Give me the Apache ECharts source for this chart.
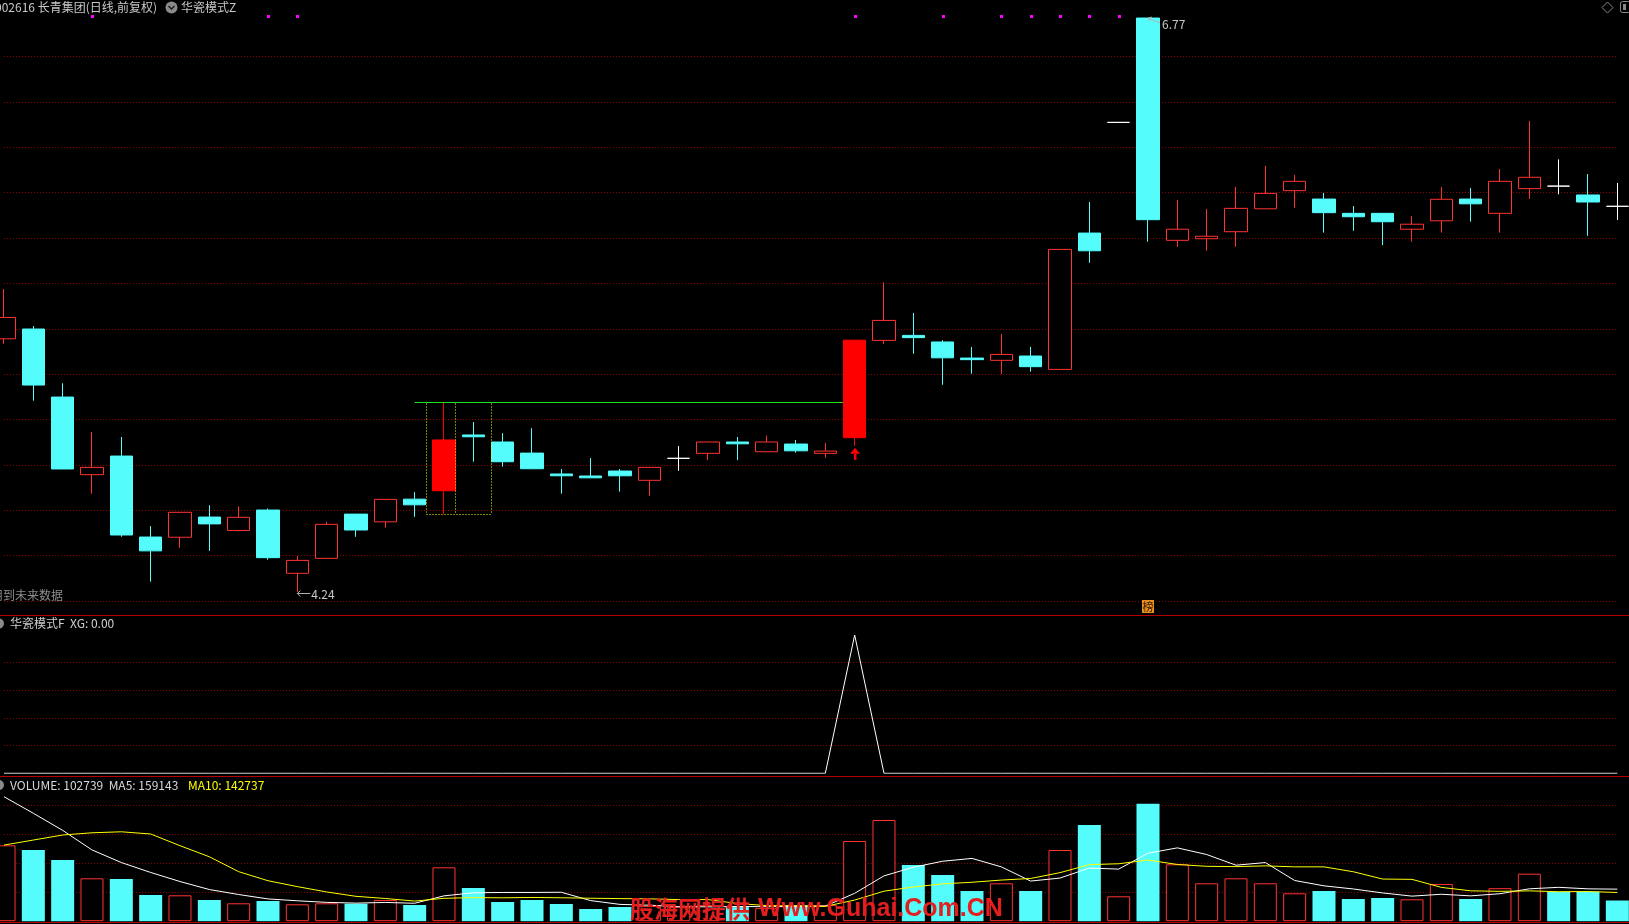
<!DOCTYPE html>
<html><head><meta charset="utf-8">
<script src="https://cdn.jsdelivr.net/npm/echarts@6/dist/echarts.min.js"></script>
<style>html,body{margin:0;padding:0;background:#000;overflow:hidden}#c{width:1629px;height:924px}</style>
</head><body><div id="c"></div>
<script>
// ---------- data ----------
const open  = [5.356,5.399,5.099,4.757,4.839,4.482,4.481,4.570,4.511,4.601,4.322,4.388,4.583,4.549,4.649,4.686,4.932,4.901,4.852,4.760,4.751,4.773,4.732,4.829,4.851,4.901,4.858,4.892,4.851,4.920,5.349,5.371,5.342,5.271,5.261,5.280,5.221,5.822,6.310,6.770,5.790,5.797,5.828,5.929,6.009,5.972,5.909,5.909,5.839,5.876,5.972,5.909,6.018,6.029,5.990,5.940];
const high  = [5.575,5.412,5.160,4.945,4.923,4.530,4.591,4.622,4.617,4.608,4.399,4.549,4.583,4.648,4.680,5.078,4.989,4.940,4.962,4.782,4.830,4.782,4.789,4.883,4.901,4.923,4.929,4.910,4.896,5.350,5.605,5.470,5.350,5.320,5.377,5.320,5.750,5.959,6.310,6.770,5.968,5.928,6.025,6.118,6.078,5.999,5.941,5.909,5.897,6.025,6.021,6.104,6.316,6.147,6.082,6.043];
const low   = [5.334,5.083,4.782,4.673,4.483,4.285,4.435,4.421,4.511,4.382,4.240,4.388,4.483,4.523,4.571,4.583,4.814,4.792,4.783,4.673,4.743,4.682,4.664,4.774,4.821,4.821,4.858,4.854,4.831,4.884,5.334,5.290,5.153,5.202,5.201,5.211,5.221,5.691,6.310,5.784,5.762,5.744,5.762,5.929,5.934,5.824,5.832,5.769,5.784,5.824,5.872,5.824,5.973,5.993,5.810,5.880];
const close = [5.450,5.152,4.782,4.789,4.491,4.421,4.591,4.540,4.569,4.391,4.379,4.538,4.513,4.648,4.624,4.910,4.924,4.814,4.783,4.752,4.743,4.752,4.789,4.829,4.901,4.893,4.901,4.862,4.861,5.350,5.437,5.361,5.272,5.264,5.287,5.233,5.750,5.744,6.310,5.881,5.839,5.808,5.931,5.997,6.050,5.912,5.894,5.872,5.861,5.971,5.951,6.050,6.068,6.029,5.959,5.940];
const volume = [376800,353500,303900,213000,209500,130100,128600,105300,88900,100300,
                83900,88900,86900,105300,80400,267600,164800,95300,105300,85400,
                60600,70500,75000,70000,80000,70000,65000,80000,80000,398200,
                502500,279000,229400,150000,188200,150000,353500,477600,123600,583400,
                282500,188200,213000,188200,138500,150000,110200,115200,108700,185000,
                110200,164000,236000,146000,147000,102739];
const ma5 = [618000,536000,451000,354000,291300,242000,197000,157300,132500,110600,
             101400,93500,89800,93100,89100,125800,141000,142700,142700,143700,
             102300,83400,79400,72300,71200,73100,72000,73000,75000,138600,
             225100,267900,297800,311800,269800,199300,214200,263900,258600,337600,
             364100,331100,278100,291100,202100,175600,160000,140400,124500,133800,
             125900,136600,160800,168200,160600,159143];
const ma10 = [378000,403000,428000,439000,444000,433000,375000,320000,246000,201000,
              171700,145200,123500,112800,99900,113600,117200,116200,117900,116400,
              114100,112200,111000,107500,107500,87700,77700,76200,73700,104900,
              149100,170000,185400,193400,204200,212200,241100,280800,285200,303700,
              281700,272600,271000,274800,269900,269900,245500,209300,207800,167900,
              150700,148300,150600,146400,147200,142737];
const xg = [0,0,0,0,0,0,0,0,0,0, 0,0,0,0,0,0,0,0,0,0, 0,0,0,0,0,0,0,0,0,1,
            0,0,0,0,0,0,0,0,0,0, 0,0,0,0,0,0,0,0,0,0, 0,0,0,0,0,0];
const highlightIdx = [15, 29];          // solid red candles
const boxIdx = 15;                      // yellow dotted box candle
const breakIdx = 29;                    // breakout candle (arrow)
const signalIdx = [3, 9, 10, 29, 32, 34, 35, 36, 37, 38]; // magenta dots on top
const rankIdx = 39;                     // 榜 marker
const categories = open.map((_, i) => String(i + 1));

// ---------- colours ----------
const RED = '#FF3232', CYAN = '#54FCFC', GRID = '#8C0000', SEP = '#B40000';
const BW = 23;

const candleData = open.map((o, i) => {
  const item = { value: [o, close[i], low[i], high[i]] };
  if (highlightIdx.includes(i)) {
    item.itemStyle = { color: '#FF0000', color0: '#FF0000', borderColor: '#FF0000', borderColor0: '#FF0000' };
  } else if (close[i] === o) {
    item.itemStyle = { color: '#FFFFFF', color0: '#FFFFFF', borderColor: '#FFFFFF', borderColor0: '#FFFFFF' };
  }
  return item;
});
const isUp = i => close[i] > open[i] || (close[i] === open[i] && (i === 0 || close[i] >= close[i - 1]));
const volData = volume.map((v, i) => ({
  value: v,
  itemStyle: isUp(i) ? { color: '#000', borderColor: RED, borderWidth: 1 } : { color: CYAN, borderColor: CYAN, borderWidth: 0 }
}));

const hp = v => Math.round(v) + 0.5;
const dotted = { stroke: '#FFFF00', lineWidth: 1, lineDash: [1, 2] };

function renderDecor(params, api) {
  const c = (i, p) => api.coord([i, p]);
  const ch = [];
  // green resistance line at high of box candle
  const gy = hp(c(boxIdx, high[boxIdx])[1]);
  const gx0 = c(boxIdx - 1, high[boxIdx])[0];
  const gx1 = c(breakIdx, high[boxIdx])[0] - BW / 2;
  ch.push({ type: 'line', shape: { x1: gx0, y1: gy, x2: gx1, y2: gy }, style: { stroke: '#1EE61E', lineWidth: 1 } });
  // yellow dotted box
  const yb = hp(c(boxIdx, low[boxIdx])[1]);
  const x1 = hp(c(boxIdx - 1, 0)[0] + BW / 2), x2 = hp(c(boxIdx, 0)[0] + BW / 2), x3 = hp(c(boxIdx + 2, 0)[0] - BW / 2);
  [x1, x2, x3].forEach(x => ch.push({ type: 'line', shape: { x1: x, y1: gy + 1, x2: x, y2: yb }, style: dotted }));
  ch.push({ type: 'line', shape: { x1: x1, y1: yb, x2: x3, y2: yb }, style: dotted });
  // red arrow under breakout candle
  const a = c(breakIdx, low[breakIdx]);
  const ax = Math.round(a[0]), ay = a[1] + 2;
  ch.push({ type: 'polygon', shape: { points: [[ax, ay], [ax - 5, ay + 6], [ax + 5, ay + 6]] }, style: { fill: '#FF0000' } });
  ch.push({ type: 'rect', shape: { x: ax - 1, y: ay + 6, width: 2.5, height: 6 }, style: { fill: '#FF0000' } });
  // magenta signal dots on top
  signalIdx.forEach(i => {
    const x = Math.round(c(i, 0)[0]);
    ch.push({ type: 'rect', shape: { x: x - 1, y: 15, width: 3, height: 3 }, style: { fill: '#FF00FF' } });
  });
  // max / min labels
  const hiV = Math.max(...high), hiI = high.indexOf(hiV);
  const loV = Math.min(...low), loI = low.indexOf(loV);
  const h = c(hiI, hiV);
  ch.push({ type: 'line', shape: { x1: h[0], y1: h[1], x2: h[0] + 12, y2: h[1] + 5 }, style: { stroke: '#B0B0B0', lineWidth: 1 } });
  ch.push({ type: 'polyline', shape: { points: [[h[0] + 4, h[1] - 1], [h[0], h[1]], [h[0] + 2, h[1] + 3]] }, style: { stroke: '#B0B0B0', lineWidth: 1, fill: null } });
  ch.push({ type: 'text', style: { text: hiV.toFixed(2), x: h[0] + 14, y: h[1] + 6, fill: '#C8C8C8', font: '12px "Noto Sans CJK SC"', textVerticalAlign: 'middle' } });
  const l = c(loI, loV);
  const ly = hp(l[1] + 1);
  ch.push({ type: 'line', shape: { x1: l[0], y1: ly, x2: l[0] + 13, y2: ly }, style: { stroke: '#B0B0B0', lineWidth: 1 } });
  ch.push({ type: 'polyline', shape: { points: [[l[0] + 3, ly - 3], [l[0], ly], [l[0] + 3, ly + 3]] }, style: { stroke: '#B0B0B0', lineWidth: 1, fill: null } });
  ch.push({ type: 'text', style: { text: loV.toFixed(2), x: l[0] + 14, y: ly + 1, fill: '#C8C8C8', font: '12px "Noto Sans CJK SC"', textVerticalAlign: 'middle' } });
  // 榜 marker
  const r = c(rankIdx, 0);
  ch.push({ type: 'rect', shape: { x: Math.round(r[0]) - 6, y: 600, width: 12, height: 13 }, style: { fill: '#E8901E' } });
  ch.push({ type: 'text', style: { text: '榜', x: Math.round(r[0]), y: 607, fill: '#3A1A00', font: '11px "Noto Sans CJK SC"', textAlign: 'center', textVerticalAlign: 'middle' } });
  return { type: 'group', children: ch };
}

const hiddenAxis = { axisLine: { show: false }, axisTick: { show: false }, axisLabel: { show: false } };
const gridLine = (showEnds) => ({ show: true, showMinLine: showEnds, showMaxLine: showEnds, lineStyle: { color: GRID, width: 1, type: [1, 2] } });
const FONT = '12px "Noto Sans CJK SC"';
const last = volume.length - 1;

const option = {
  backgroundColor: '#000',
  animation: false,
  grid: [
    { left: 4, right: 11.67, top: 56.6, height: 544.4 },
    { left: 4, right: 11.67, top: 635, height: 138.3 },
    { left: 4, right: 11.67, top: 776.2, height: 145 }
  ],
  xAxis: [0, 1, 2].map(g => ({ type: 'category', gridIndex: g, data: categories, boundaryGap: false, show: false })),
  yAxis: [
    Object.assign({ gridIndex: 0, min: 4.2, max: 6.6, interval: 0.2, splitLine: gridLine(true) }, hiddenAxis),
    Object.assign({ gridIndex: 1, min: 0, max: 1, interval: 0.2, splitLine: gridLine(false) }, hiddenAxis),
    Object.assign({ gridIndex: 2, min: 0, max: 720000, interval: 144000, splitLine: gridLine(false) }, hiddenAxis)
  ],
  series: [
    { type: 'candlestick', xAxisIndex: 0, yAxisIndex: 0, barWidth: BW, clip: false, data: candleData,
      itemStyle: { color: '#000', color0: CYAN, borderColor: RED, borderColor0: CYAN, borderWidth: 1 } },
    { type: 'custom', xAxisIndex: 0, yAxisIndex: 0, data: [[0, 5]], renderItem: renderDecor, z: 5, silent: true },
    { type: 'line', xAxisIndex: 1, yAxisIndex: 1, data: xg, symbol: 'none', lineStyle: { color: '#FFFFFF', width: 1 } },
    { type: 'bar', xAxisIndex: 2, yAxisIndex: 2, barWidth: BW, data: volData },
    { type: 'line', xAxisIndex: 2, yAxisIndex: 2, data: ma5, symbol: 'none', lineStyle: { color: '#FFFFFF', width: 1 }, z: 4 },
    { type: 'line', xAxisIndex: 2, yAxisIndex: 2, data: ma10, symbol: 'none', lineStyle: { color: '#FFFF00', width: 1 }, z: 4 }
  ],
  graphic: [
    // separators
    { type: 'line', shape: { x1: 0, y1: 615.5, x2: 1629, y2: 615.5 }, style: { stroke: SEP, lineWidth: 1 }, z: 50 },
    { type: 'line', shape: { x1: 0, y1: 776.5, x2: 1629, y2: 776.5 }, style: { stroke: SEP, lineWidth: 1 }, z: 50 },
    { type: 'line', shape: { x1: 0, y1: 922.5, x2: 1629, y2: 922.5 }, style: { stroke: SEP, lineWidth: 1 }, z: 50 },
    // main title
    { type: 'text', x: -5, y: 7.5, style: { text: '002616 长青集团(日线,前复权)', fill: '#C8C8C8', font: FONT, textVerticalAlign: 'middle' }, z: 60 },
    { type: 'circle', shape: { cx: 171.5, cy: 7.5, r: 6 }, style: { fill: '#8A8A8A' }, z: 60 },
    { type: 'polyline', shape: { points: [[168.5, 6], [171.5, 9], [174.5, 6]] }, style: { stroke: '#1A1A1A', lineWidth: 1.5, fill: null }, z: 61 },
    { type: 'text', x: 181, y: 7.5, style: { text: '华瓷模式Z', fill: '#C8C8C8', font: FONT, textVerticalAlign: 'middle' }, z: 60 },
    // top right icons
    { type: 'polygon', shape: { points: [[1607.5, 2], [1613, 7.5], [1607.5, 13], [1602, 7.5]] }, style: { stroke: '#8A8A8A', fill: null, lineWidth: 1 }, z: 60 },
    { type: 'rect', shape: { x: 1620.5, y: 1.5, width: 10, height: 11, r: 2 }, style: { stroke: '#8A8A8A', fill: null, lineWidth: 1 }, z: 60 },
    { type: 'rect', shape: { x: 1623, y: 4, width: 3, height: 6 }, style: { fill: '#8A8A8A' }, z: 60 },
    // future data note
    { type: 'text', x: -9, y: 595, style: { text: '用到未来数据', fill: '#8C8C8C', font: FONT, textVerticalAlign: 'middle' }, z: 60 },
    // indicator title
    { type: 'circle', shape: { cx: -1, cy: 623.5, r: 5 }, style: { fill: '#8A8A8A' }, z: 60 },
    { type: 'text', x: 10, y: 623.5, style: { text: '华瓷模式F  XG: ' + xg[last].toFixed(2), fill: '#D0D0D0', font: FONT, textVerticalAlign: 'middle' }, z: 60 },
    // volume title
    { type: 'circle', shape: { cx: -1, cy: 785, r: 5 }, style: { fill: '#8A8A8A' }, z: 60 },
    { type: 'text', x: 10, y: 785, style: { text: 'VOLUME: ' + volume[last] + '  MA5: ' + Math.round(ma5[last]), fill: '#D8D8D8', font: FONT, textVerticalAlign: 'middle' }, z: 60 },
    { type: 'text', x: 188, y: 785, style: { text: 'MA10: ' + Math.round(ma10[last]), fill: '#FFFF00', font: FONT, textVerticalAlign: 'middle' }, z: 60 },
    // watermark
    { type: 'text', x: 630, y: 909, style: { text: '股海网提供', fill: '#E41E1E', font: 'bold 24px "Noto Sans CJK SC"', textVerticalAlign: 'middle' }, z: 70 },
    { type: 'text', x: 758, y: 909, style: { text: 'Www.Guhai.Com.CN', fill: '#E41E1E', font: 'bold 25px "Liberation Sans"', textVerticalAlign: 'middle' }, z: 70 }
  ]
};

const chart = echarts.init(document.getElementById('c'), null, { renderer: 'canvas' });
chart.setOption(option);
</script>
</body></html>
